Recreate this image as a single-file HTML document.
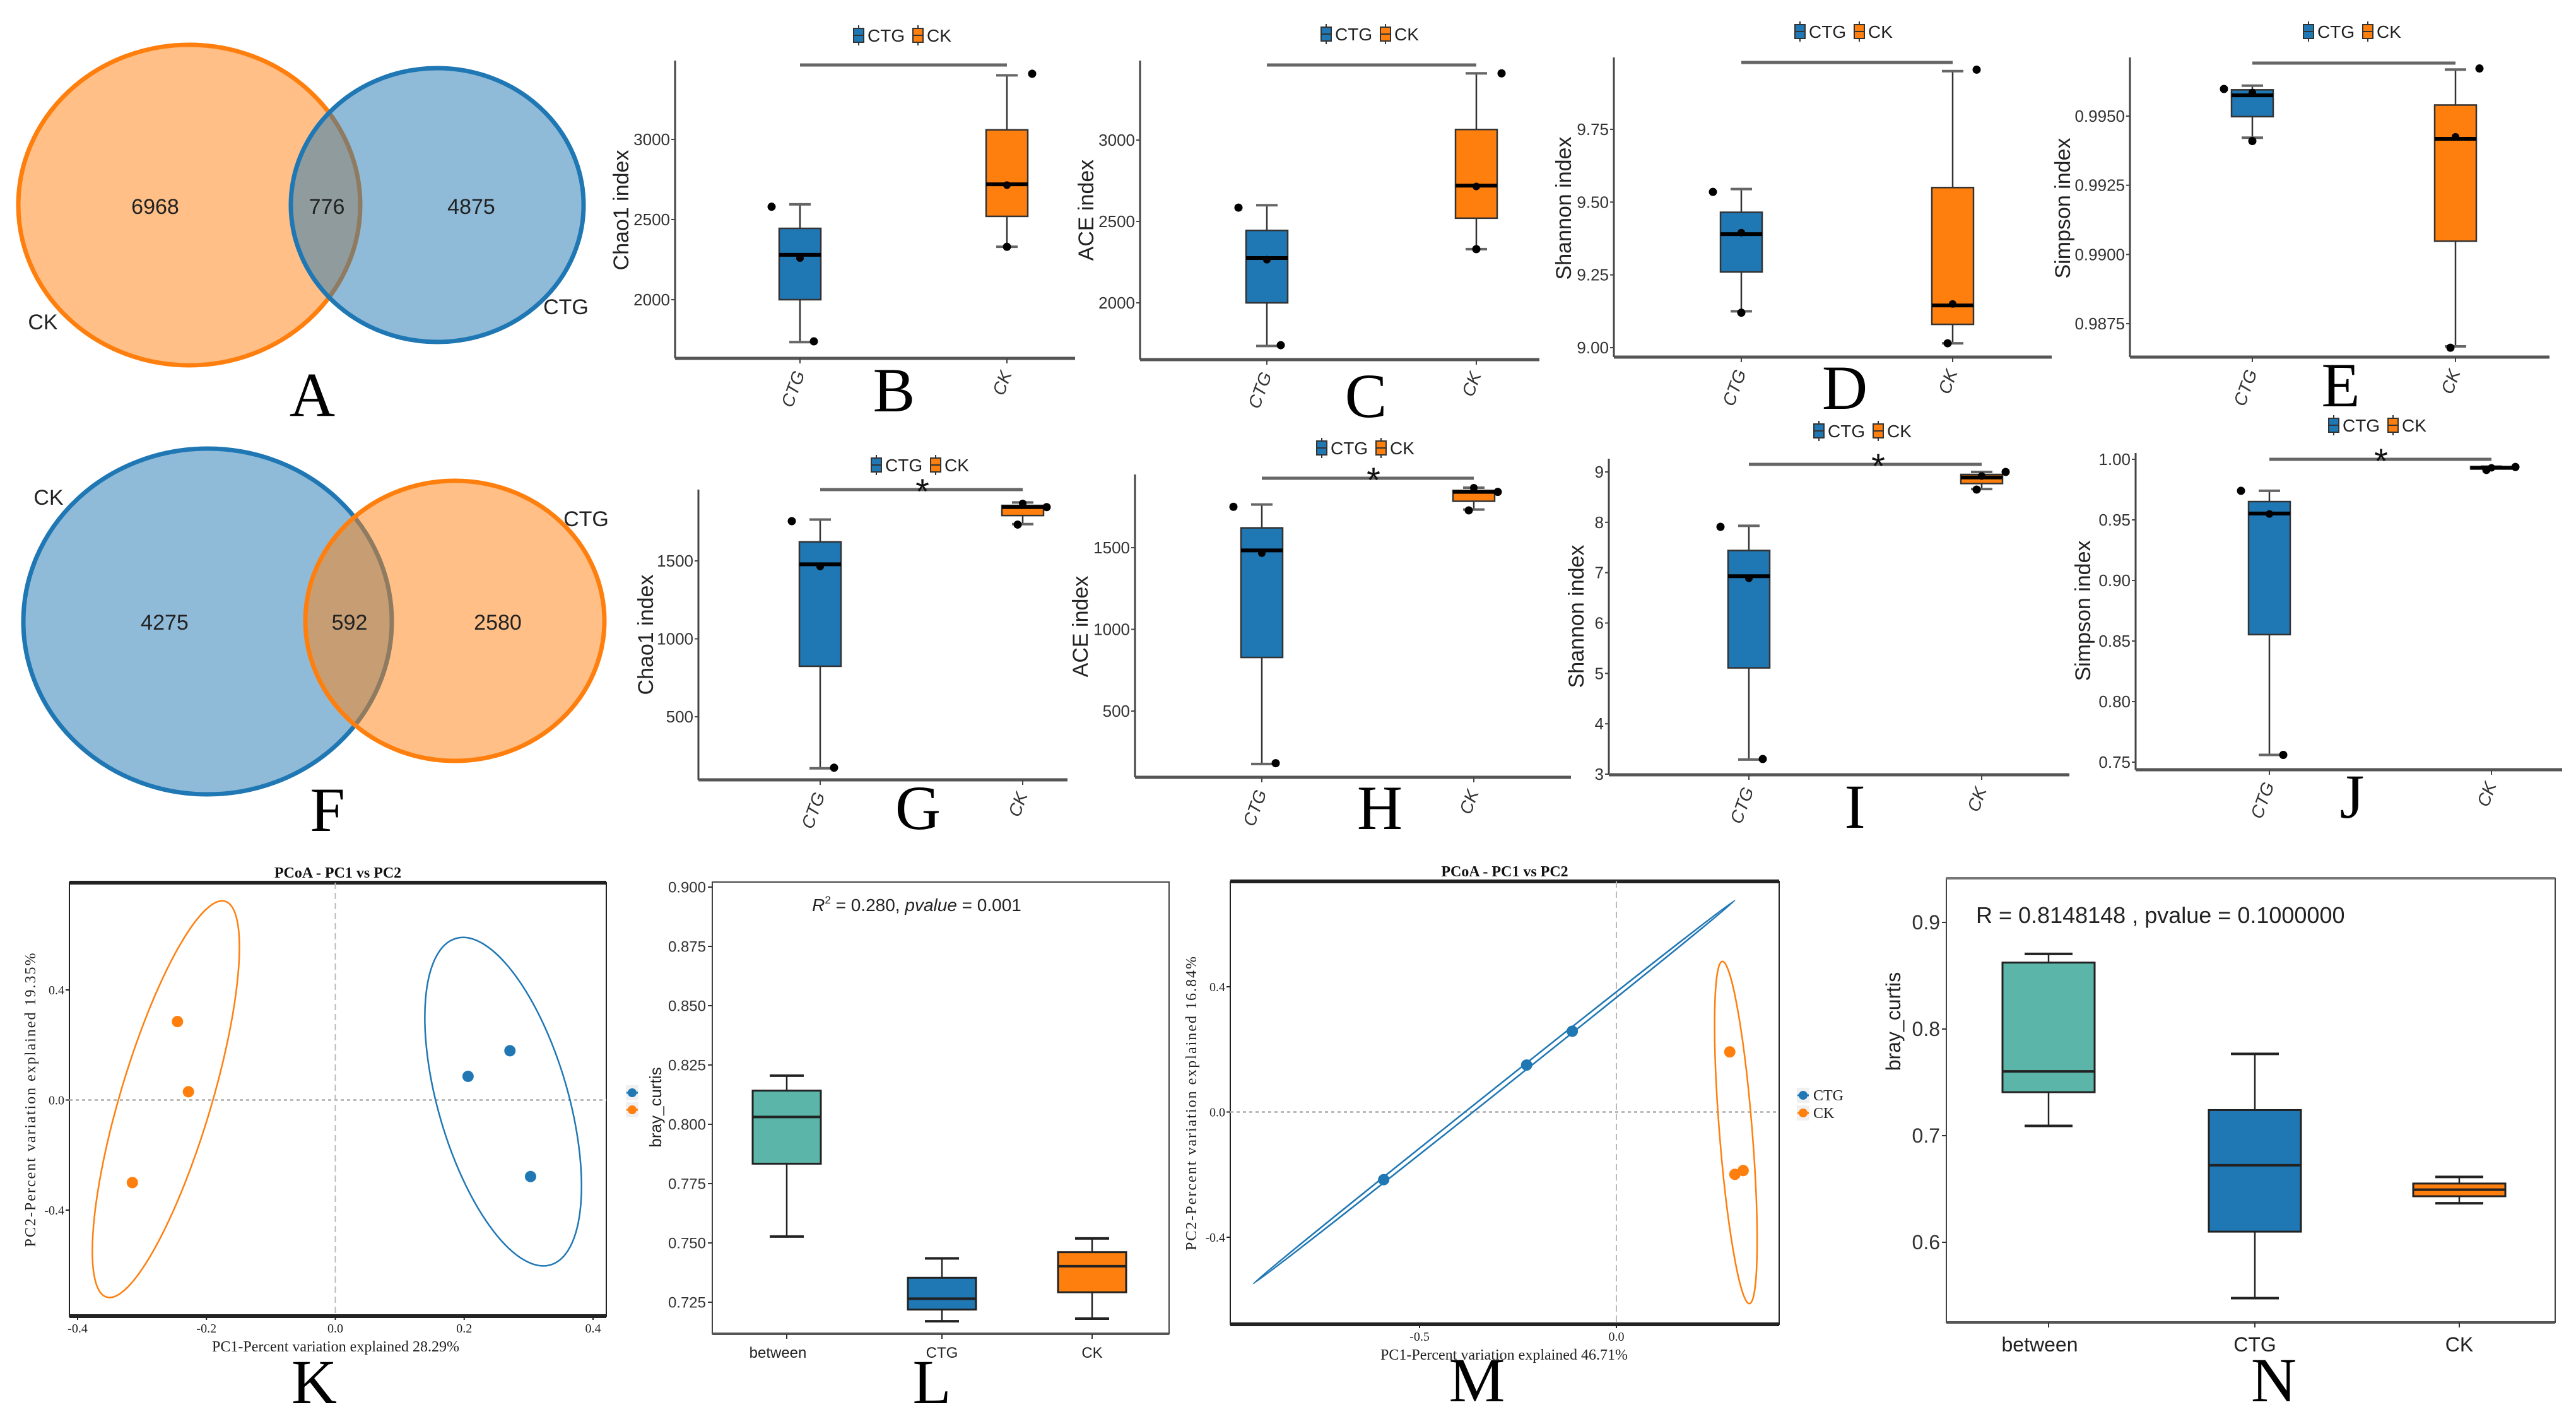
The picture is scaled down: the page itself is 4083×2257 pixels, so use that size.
<!DOCTYPE html>
<html><head><meta charset="utf-8"><title>Diversity figure</title>
<style>
html,body{margin:0;padding:0;background:#fff;}
svg{display:block;}
</style></head>
<body>
<svg id="fig" xmlns="http://www.w3.org/2000/svg" width="4083" height="2257" viewBox="0 0 4083 2257"></svg>
<script>
// ---------------- DATA ----------------
const groupNames=['CTG','CK'];
// Venn counts
const vennA=[6968,776,4875];
const vennF=[4275,592,2580];
// Box stats: [low whisker, q1, median, q3, high whisker]
const statsB=[[1735,2000,2280,2445,2595],[2330,2520,2720,3060,3400]];
const meansB=[2260,2715];
const pointsB=[[2580,1740],[3410,2330]];
const statsC=[[1735,2000,2275,2445,2600],[2330,2520,2720,3065,3410]];
const meansC=[2265,2715];
const pointsC=[[2585,1740],[3410,2330]];
const statsD=[[9.125,9.26,9.39,9.465,9.545],[9.015,9.08,9.145,9.55,9.95]];
const meansD=[9.395,9.15];
const pointsD=[[9.535,9.12],[9.955,9.015]];
const statsE=[[0.99422,0.99498,0.99575,0.99595,0.9961],[0.98668,0.99048,0.99418,0.9954,0.99668]];
const meansE=[0.99585,0.99425];
const pointsE=[[0.99598,0.9941],[0.99672,0.98663]];
const statsG=[[169,824,1478,1622,1765],[1736,1791,1845,1856,1875]];
const meansG=[1464,1869];
const pointsG=[[1755,173],[1845,1733]];
const statsH=[[176,828,1483,1621,1764],[1733,1784,1841,1850,1867]];
const meansH=[1466,1867];
const pointsH=[[1750,181],[1841,1728]];
const statsI=[[3.29,5.11,6.93,7.44,7.93],[8.66,8.77,8.89,8.95,9.0]];
const meansI=[6.89,8.92];
const pointsI=[[7.91,3.30],[9.0,8.65]];
const statsJ=[[0.756,0.8553,0.9553,0.9651,0.974],[0.9925,0.992,0.993,0.994,0.994]];
const meansJ=[0.9549,0.993];
const pointsJ=[[0.974,0.756],[0.9937,0.9912]];
// tick values
const ticksBC=[2000,2500,3000];
const ticksD=[9.00,9.25,9.50,9.75];
const ticksE=[0.9875,0.9900,0.9925,0.9950];
const ticksGH=[500,1000,1500];
const ticksI=[3,4,5,6,7,8,9];
const ticksJ=[0.75,0.80,0.85,0.90,0.95,1.00];
// PCoA K
const pcoaK_CTG=[[0.271,0.179],[0.206,0.086],[0.303,-0.278]];
const pcoaK_CK=[[-0.245,0.285],[-0.228,0.030],[-0.315,-0.30]];
const ellK_CTG=[[0.187,0.587],[0.334,-0.599]];
const ellK_CK=[[-0.171,0.722],[-0.355,-0.716]];
const ticksKx=[-0.4,-0.2,0.0,0.2,0.4];
const ticksKy=[-0.4,0.0,0.4];
// PCoA M
const pcoaM_CTG=[[-0.591,-0.216],[-0.228,0.150],[-0.112,0.258]];
const pcoaM_CK=[[0.288,0.192],[0.301,-0.199],[0.322,-0.187]];
const ellM_CTG=[[-0.922,-0.548],[0.301,0.676]];
const ellM_CK=[[0.269,0.481],[0.338,-0.612]];
const ticksMx=[-0.5,0.0];
const ticksMy=[-0.4,0.0,0.4];
// Bray-curtis L, N
const catsLN=['between','CTG','CK'];
const statsL=[[0.7527,0.7834,0.8031,0.8142,0.8205],[0.717,0.7219,0.7265,0.7353,0.7435],[0.7181,0.7292,0.7402,0.7461,0.7519]];
const ticksL=[0.725,0.750,0.775,0.800,0.825,0.850,0.875,0.900];
const statsN=[[0.7092,0.7408,0.7603,0.8623,0.8705],[0.5476,0.610,0.6723,0.724,0.7767],[0.6366,0.6432,0.6493,0.6551,0.6613]];
const ticksN=[0.6,0.7,0.8,0.9];

// ---------------- HELPERS ----------------
const NS='http://www.w3.org/2000/svg';
const svg=document.getElementById('fig');
function mk(tag,attrs,parent,text){const e=document.createElementNS(NS,tag);for(const k in attrs)e.setAttribute(k,attrs[k]);if(text!=null)e.textContent=text;(parent||svg).appendChild(e);return e;}
function lin(v1,p1,v2,p2){return v=>p1+(v-v1)*(p2-p1)/(v2-v1);}
const BLUE='#1f77b4',ORANGE='#ff7f0e',TEAL='#5bb5a8';
const COLS=[BLUE,ORANGE];
const SANS='"Liberation Sans", sans-serif';
const NARROW='"Liberation Sans Narrow","Liberation Sans", sans-serif';
const SERIF='"Liberation Serif", serif';

function letter(ch,x,y){
  const t=mk('text',{x:x,y:y,'font-family':SERIF,'font-size':100,'text-anchor':'middle',fill:'#000'},svg,ch);
  
  
}

// ---------------- VENN ----------------
function venn(id,counts,c1,c2,labels,lab1,lab2,order){
  const g=mk('g',{});
  
  
  const circles=[c1,c2];
  order.forEach(i=>{
    const c=circles[i];
    const e=mk('ellipse',{cx:c.cx,cy:c.cy,rx:c.rx,ry:c.ry,fill:c.col,'fill-opacity':0.5,stroke:c.col,'stroke-width':7},g);
    
    
  });
  counts.forEach((v,i)=>{
    const t=mk('text',{x:labels[i][0],y:labels[i][1]+12,'font-family':SANS,'font-size':34,'text-anchor':'middle',fill:'#222'},g,String(v));
    
    
  });
  [lab1,lab2].forEach(l=>{
    const t=mk('text',{x:l[0],y:l[1]+12,'font-family':SANS,'font-size':34,'text-anchor':'middle',fill:'#222'},g,l[2]);
    
    
  });
}
venn('a',vennA,{cx:300,cy:325,rx:271,ry:254,col:ORANGE,name:'ck'},{cx:693,cy:325,rx:232,ry:217,col:BLUE,name:'ctg'},
  [[246,327],[518,327],[747,327]],[68,510,'CK'],[897,486,'CTG'],[0,1]);
letter('A',495,659);
venn('f',vennF,{cx:329,cy:985,rx:292,ry:274,col:BLUE,name:'ck'},{cx:721,cy:984,rx:237,ry:222,col:ORANGE,name:'ctg'},
  [[261,986],[554,986],[789,986]],[77,788,'CK'],[929,822,'CTG'],[0,1]);
letter('F',519,1317);

// ---------------- GGPLOT BOXPLOTS ----------------
function legendIcon(g,x,y,col){
  mk('line',{x1:x,y1:y-16,x2:x,y2:y+16,stroke:'#333','stroke-width':2},g);
  mk('rect',{x:x-8,y:y-11,width:16,height:22,fill:col,stroke:'#333','stroke-width':2},g);
  mk('line',{x1:x-8,y1:y,x2:x+8,y2:y,stroke:'#333','stroke-width':2},g);
}
function ggbox(cfg,stats,means,points,ticks,fmt){
  const g=mk('g',{});
  
  
  const y=lin(cfg.t[0],cfg.t[1],cfg.t[2],cfg.t[3]);
  // legend
  const lg=mk('g',{},g);
  
  
  legendIcon(lg,cfg.legX-80,cfg.legY,BLUE);
  const t1=mk('text',{x:cfg.legX-66,y:cfg.legY+10,'font-family':NARROW,'font-size':28,fill:'#222'},lg,'CTG');
  
  
  legendIcon(lg,cfg.legX+14,cfg.legY,ORANGE);
  const t2=mk('text',{x:cfg.legX+28,y:cfg.legY+10,'font-family':NARROW,'font-size':28,fill:'#222'},lg,'CK');
  
  
  // axes
  const ya=mk('line',{x1:cfg.ax,y1:cfg.top,x2:cfg.ax,y2:cfg.ay,stroke:'#444','stroke-width':3},g);
  
  
  const xa=mk('line',{x1:cfg.ax,y1:cfg.ay,x2:cfg.xend,y2:cfg.ay,stroke:'#555','stroke-width':5},g);
  
  
  ticks.forEach(v=>{
    const p=y(v);
    mk('line',{x1:cfg.ax-6,y1:p,x2:cfg.ax,y2:p,stroke:'#444','stroke-width':2},g);
    const t=mk('text',{x:cfg.ax-8,y:p+9,'font-family':NARROW,'font-size':26,'text-anchor':'end',fill:'#333'},g,fmt(v));
    
    
  });
  const yt=mk('text',{x:cfg.ytx,y:cfg.yty,'font-family':SANS,'font-size':34,'text-anchor':'middle',fill:'#222',transform:`rotate(-90 ${cfg.ytx} ${cfg.yty})`},g,cfg.yt);
  
  
  groupNames.forEach((nm,i)=>{
    const cx=cfg.cx[i];
    mk('line',{x1:cx,y1:cfg.ay,x2:cx,y2:cfg.ay+8,stroke:'#444','stroke-width':2},g);
    const lx=cx+8,ly=cfg.ay+24;
    const t=mk('text',{x:lx,y:ly,'font-family':SANS,'font-size':28,'font-style':'italic','text-anchor':'end',fill:'#333',transform:`rotate(-70 ${lx} ${ly})`},g,nm);
    
    
    const s=stats[i],hw=33;
    const wh=mk('line',{x1:cx,y1:y(s[0]),x2:cx,y2:y(s[4]),stroke:'#333','stroke-width':2.5},g);
    
    
    [s[0],s[4]].forEach(v=>{mk('line',{x1:cx-17,y1:y(v),x2:cx+17,y2:y(v),stroke:'#666','stroke-width':4},g);});
    const b=mk('rect',{x:cx-hw,y:y(s[3]),width:2*hw,height:y(s[1])-y(s[3]),fill:COLS[i],stroke:'#333','stroke-width':2.5},g);
    
    
    const md=mk('line',{x1:cx-hw,y1:y(s[2]),x2:cx+hw,y2:y(s[2]),stroke:'#000','stroke-width':6},g);
    
    
    const mn=mk('circle',{cx:cx,cy:y(means[i]),r:6,fill:'#000'},g);
    
    
    points[i].forEach((v,j)=>{
      const c=mk('circle',{cx:cx+cfg.jit[i][j],cy:y(v),r:6.5,fill:'#000'},g);
      
      
    });
  });
  const sl=mk('line',{x1:cfg.cx[0],y1:cfg.sigY,x2:cfg.cx[1],y2:cfg.sigY,stroke:'#666','stroke-width':5},g);
  
  
  if(cfg.star){
    const st=mk('text',{x:cfg.starX,y:cfg.sigY+22,'font-family':SANS,'font-size':56,'text-anchor':'middle',fill:'#111'},g,'*');
    
    
  }
  letter(cfg.id.toUpperCase(),cfg.lx,cfg.ly);
}
const f0=v=>String(v), f2=v=>v.toFixed(2), f4=v=>v.toFixed(4);
ggbox({id:'b',ax:1070,ay:568,xend:1704,top:96,cx:[1268,1596],t:[2000,475,3000,221],legX:1441,legY:56,sigY:103,lx:1417,ly:652,yt:'Chao1 index',ytx:996,yty:333,jit:[[-45,22],[40,0]]},statsB,meansB,pointsB,ticksBC,f0);
ggbox({id:'c',ax:1807,ay:570,xend:2440,top:96,cx:[2008,2340],t:[2000,480,3000,222],legX:2182,legY:54,sigY:103,lx:2165,ly:661,yt:'ACE index',ytx:1733,yty:333,jit:[[-45,22],[40,0]]},statsC,meansC,pointsC,ticksBC,f0);
ggbox({id:'d',ax:2558,ay:566,xend:3252,top:91,cx:[2760,3095],t:[9.0,551,9.75,205],legX:2933,legY:50,sigY:99,lx:2924,ly:648,yt:'Shannon index',ytx:2490,yty:330,jit:[[-45,0],[38,-8]]},statsD,meansD,pointsD,ticksD,f2);
ggbox({id:'e',ax:3376,ay:566,xend:4041,top:91,cx:[3570,3892],t:[0.9875,513,0.995,184],legX:3739,legY:50,sigY:100,lx:3710,ly:644,yt:'Simpson index',ytx:3281,yty:330,jit:[[-45,0],[38,-8]]},statsE,meansE,pointsE,ticksE,f4);
ggbox({id:'g',ax:1107,ay:1236,xend:1692,top:776,cx:[1300,1621],t:[500,1136,1500,889],legX:1469,legY:737,sigY:776,star:true,starX:1462,lx:1455,ly:1314,yt:'Chao1 index',ytx:1035,yty:1006,jit:[[-45,22],[38,-8]]},statsG,meansG,pointsG,ticksGH,f0);
ggbox({id:'h',ax:1799,ay:1232,xend:2490,top:752,cx:[2000,2336],t:[500,1127,1500,868],legX:2175,legY:710,sigY:758,star:true,starX:2177,lx:2187,ly:1314,yt:'ACE index',ytx:1724,yty:993,jit:[[-45,22],[38,-8]]},statsH,meansH,pointsH,ticksGH,f0);
ggbox({id:'i',ax:2550,ay:1228,xend:3280,top:727,cx:[2772,3141],t:[3,1227,9,748],legX:2963,legY:683,sigY:736,star:true,starX:2977,lx:2940,ly:1312,yt:'Shannon index',ytx:2510,yty:977,jit:[[-45,22],[38,-8]]},statsI,meansI,pointsI,ticksI,f0);
ggbox({id:'j',ax:3385,ay:1220,xend:4061,top:718,cx:[3597,3949],t:[0.75,1208,1.0,728],legX:3779,legY:674,sigY:728,star:true,starX:3774,lx:3728,ly:1296,yt:'Simpson index',ytx:3313,yty:968,jit:[[-45,22],[38,-8]]},statsJ,meansJ,pointsJ,ticksJ,f2);

// ---------------- PCoA ----------------
function pcoa(cfg,ctg,ck,ellCtg,ellCk,tx,ty){
  const g=mk('g',{});
  
  
  const x=lin(cfg.xs[0],cfg.xs[1],cfg.xs[2],cfg.xs[3]);
  const y=lin(cfg.ys[0],cfg.ys[1],cfg.ys[2],cfg.ys[3]);
  const fr=mk('rect',{x:cfg.x0,y:cfg.y0,width:cfg.x1-cfg.x0,height:cfg.y1-cfg.y0,fill:'none',stroke:'#222','stroke-width':2},g);
  
  
  mk('line',{x1:cfg.x0,y1:cfg.y0,x2:cfg.x1,y2:cfg.y0,stroke:'#222','stroke-width':6},g);
  mk('line',{x1:cfg.x0,y1:cfg.y1,x2:cfg.x1,y2:cfg.y1,stroke:'#222','stroke-width':6},g);
  mk('line',{x1:x(0),y1:cfg.y0,x2:x(0),y2:cfg.y1,stroke:'#bbb','stroke-width':2,'stroke-dasharray':'10 6'},g);
  mk('line',{x1:cfg.x0,y1:y(0),x2:cfg.x1,y2:y(0),stroke:'#bbb','stroke-width':3,'stroke-dasharray':'5 5'},g);
  tx.forEach(v=>{
    mk('line',{x1:x(v),y1:cfg.y1,x2:x(v),y2:cfg.y1+6,stroke:'#222','stroke-width':2},g);
    const t=mk('text',{x:x(v),y:cfg.y1+26,'font-family':SERIF,'font-size':20,'text-anchor':'middle',fill:'#222'},g,v.toFixed(1));
    
    
  });
  ty.forEach(v=>{
    mk('line',{x1:cfg.x0-6,y1:y(v),x2:cfg.x0,y2:y(v),stroke:'#222','stroke-width':2},g);
    const t=mk('text',{x:cfg.x0-8,y:y(v)+7,'font-family':SERIF,'font-size':20,'text-anchor':'end',fill:'#222'},g,v.toFixed(1));
    
    
  });
  const tt=mk('text',{x:(cfg.x0+cfg.x1)/2,y:cfg.y0-8,'font-family':SERIF,'font-size':24,'font-weight':'bold','text-anchor':'middle',fill:'#111'},g,'PCoA - PC1 vs PC2');
  
  
  const xt=mk('text',{x:cfg.xtx,y:cfg.y1+56,'font-family':SERIF,'font-size':24,'text-anchor':'middle',fill:'#222'},g,cfg.xt);
  
  
  const ytc=(cfg.y0+cfg.y1)/2;
  const yt=mk('text',{x:cfg.ytx,y:ytc,'font-family':SERIF,'font-size':24,'letter-spacing':2,'text-anchor':'middle',fill:'#222',transform:`rotate(-90 ${cfg.ytx} ${ytc})`},g,cfg.yt);
  
  
  [[ellCtg,BLUE,cfg.bCtg,'ctg'],[ellCk,ORANGE,cfg.bCk,'ck']].forEach(([e,col,b,nm])=>{
    const xa=x(e[0][0]),ya=y(e[0][1]),xb=x(e[1][0]),yb=y(e[1][1]);
    const cx=(xa+xb)/2,cy=(ya+yb)/2,len=Math.hypot(xb-xa,yb-ya)/2;
    const ang=Math.atan2(yb-ya,xb-xa)*180/Math.PI-90;
    const el=mk('ellipse',{cx:cx,cy:cy,rx:b,ry:len,fill:'none',stroke:col,'stroke-width':2.5,transform:`rotate(${ang} ${cx} ${cy})`},g);
    
    
  });
  [[ctg,BLUE,'ctg'],[ck,ORANGE,'ck']].forEach(([pts,col,nm])=>{
    pts.forEach(p=>{
      const c=mk('circle',{cx:x(p[0]),cy:y(p[1]),r:9,fill:col},g);
      
      
    });
  });
  cfg.leg.forEach(([lx,ly,col,lab])=>{
    mk('rect',{x:lx-10,y:ly-12,width:20,height:24,fill:'#f0f0f0'},g);
    mk('line',{x1:lx-9,y1:ly,x2:lx+9,y2:ly,stroke:col,'stroke-width':3},g);
    const c=mk('circle',{cx:lx,cy:ly,r:7,fill:col},g);
    
    
    if(lab){
      const t=mk('text',{x:lx+16,y:ly+8,'font-family':SERIF,'font-size':24,fill:'#222'},g,lab);
      
      
    }
  });
  letter(cfg.id.toUpperCase(),cfg.lx,cfg.ly);
}
pcoa({id:'k',x0:110,x1:961,y0:1399,y1:2086,xs:[-0.4,123,0.4,940],ys:[0.4,1569,-0.4,1918],xt:'PC1-Percent variation explained 28.29%',xtx:532,yt:'PC2-Percent variation explained 19.35%',ytx:56,bCtg:103,bCk:72,leg:[[1002,1732,BLUE,''],[1002,1759,ORANGE,'']],lx:498,ly:2224},pcoaK_CTG,pcoaK_CK,ellK_CTG,ellK_CK,ticksKx,ticksKy);
pcoa({id:'m',x0:1950,x1:2820,y0:1397,y1:2099,xs:[-0.5,2250,0,2562],ys:[0.4,1564,-0.4,1961],xt:'PC1-Percent variation explained 46.71%',xtx:2384,yt:'PC2-Percent variation explained 16.84%',ytx:1896,bCtg:4,bCk:26,leg:[[2858,1736,BLUE,'CTG'],[2858,1764,ORANGE,'CK']],lx:2341,ly:2221},pcoaM_CTG,pcoaM_CK,ellM_CTG,ellM_CK,ticksMx,ticksMy);

// ---------------- BRAY-CURTIS BOXES ----------------
function mplbox(cfg,stats,ticks,fmt){
  const g=mk('g',{});
  
  
  const y=lin(cfg.t[0],cfg.t[1],cfg.t[2],cfg.t[3]);
  const fr=mk('rect',{x:cfg.x0,y:cfg.y0,width:cfg.x1-cfg.x0,height:cfg.y1-cfg.y0,fill:'none',stroke:'#444','stroke-width':2},g);
  
  
  mk('line',{x1:cfg.x0,y1:cfg.y1,x2:cfg.x1,y2:cfg.y1,stroke:'#555','stroke-width':4},g);
  if(cfg.thickTop)mk('line',{x1:cfg.x0,y1:cfg.y0,x2:cfg.x1,y2:cfg.y0,stroke:'#777','stroke-width':4},g);
  ticks.forEach(v=>{
    mk('line',{x1:cfg.x0-7,y1:y(v),x2:cfg.x0,y2:y(v),stroke:'#333','stroke-width':2},g);
    const t=mk('text',{x:cfg.x0-10,y:y(v)+cfg.fs*0.35,'font-family':NARROW,'font-size':cfg.fs,'text-anchor':'end',fill:'#333'},g,fmt(v));
    
    
  });
  const cols=[TEAL,BLUE,ORANGE];
  catsLN.forEach((nm,i)=>{
    const cx=cfg.cx[i],s=stats[i],hw=cfg.hw;
    mk('line',{x1:cx,y1:cfg.y1,x2:cx,y2:cfg.y1+8,stroke:'#333','stroke-width':2},g);
    const t=mk('text',{x:cx-(nm==='between'?14:0),y:cfg.y1+cfg.fs+14,'font-family':NARROW,'font-size':cfg.fs,'text-anchor':'middle',fill:'#222'},g,nm);
    
    
    const wh=mk('line',{x1:cx,y1:y(s[0]),x2:cx,y2:y(s[4]),stroke:'#222','stroke-width':2.5},g);
    
    
    [s[0],s[4]].forEach(v=>{mk('line',{x1:cx-cfg.cap,y1:y(v),x2:cx+cfg.cap,y2:y(v),stroke:'#222','stroke-width':4},g);});
    const b=mk('rect',{x:cx-hw,y:y(s[3]),width:2*hw,height:y(s[1])-y(s[3]),fill:cols[i],stroke:'#222','stroke-width':3},g);
    
    
    const md=mk('line',{x1:cx-hw,y1:y(s[2]),x2:cx+hw,y2:y(s[2]),stroke:'#222','stroke-width':4},g);
    
    
  });
  const yt=mk('text',{x:cfg.ytx,y:cfg.yty,'font-family':SANS,'font-size':cfg.ytfs,'text-anchor':'middle',fill:'#222',transform:`rotate(-90 ${cfg.ytx} ${cfg.yty})`},g,'bray_curtis');
  
  
  letter(cfg.id.toUpperCase(),cfg.lx,cfg.ly);
}
mplbox({id:'l',x0:1129,x1:1853,y0:1398,y1:2114,t:[0.725,2064,0.9,1406],cx:[1247,1493,1731],hw:54,cap:27,fs:24,ytx:1048,yty:1755,ytfs:26,lx:1477,ly:2224},statsL,ticksL,v=>v.toFixed(3));
mplbox({id:'n',x0:3085,x1:4050,y0:1392,y1:2096,thickTop:true,t:[0.6,1969,0.9,1462],cx:[3247,3574,3898],hw:73,cap:38,fs:32,ytx:3012,yty:1619,ytfs:32,lx:3604,ly:2221},statsN,ticksN,v=>v.toFixed(1));

// annotations
const aL=mk('text',{x:1453,y:1444,'font-family':NARROW,'font-size':28,'text-anchor':'middle',fill:'#222'});


aL.innerHTML='<tspan font-style="italic">R</tspan><tspan font-size="17" dy="-12">2</tspan><tspan dy="12"> = 0.280, </tspan><tspan font-style="italic">pvalue</tspan><tspan> = 0.001</tspan>';
const aN=mk('text',{x:3132,y:1463,'font-family':NARROW,'font-size':36,fill:'#222'},svg,'R = 0.8148148 , pvalue = 0.1000000');


</script>
</body></html>
